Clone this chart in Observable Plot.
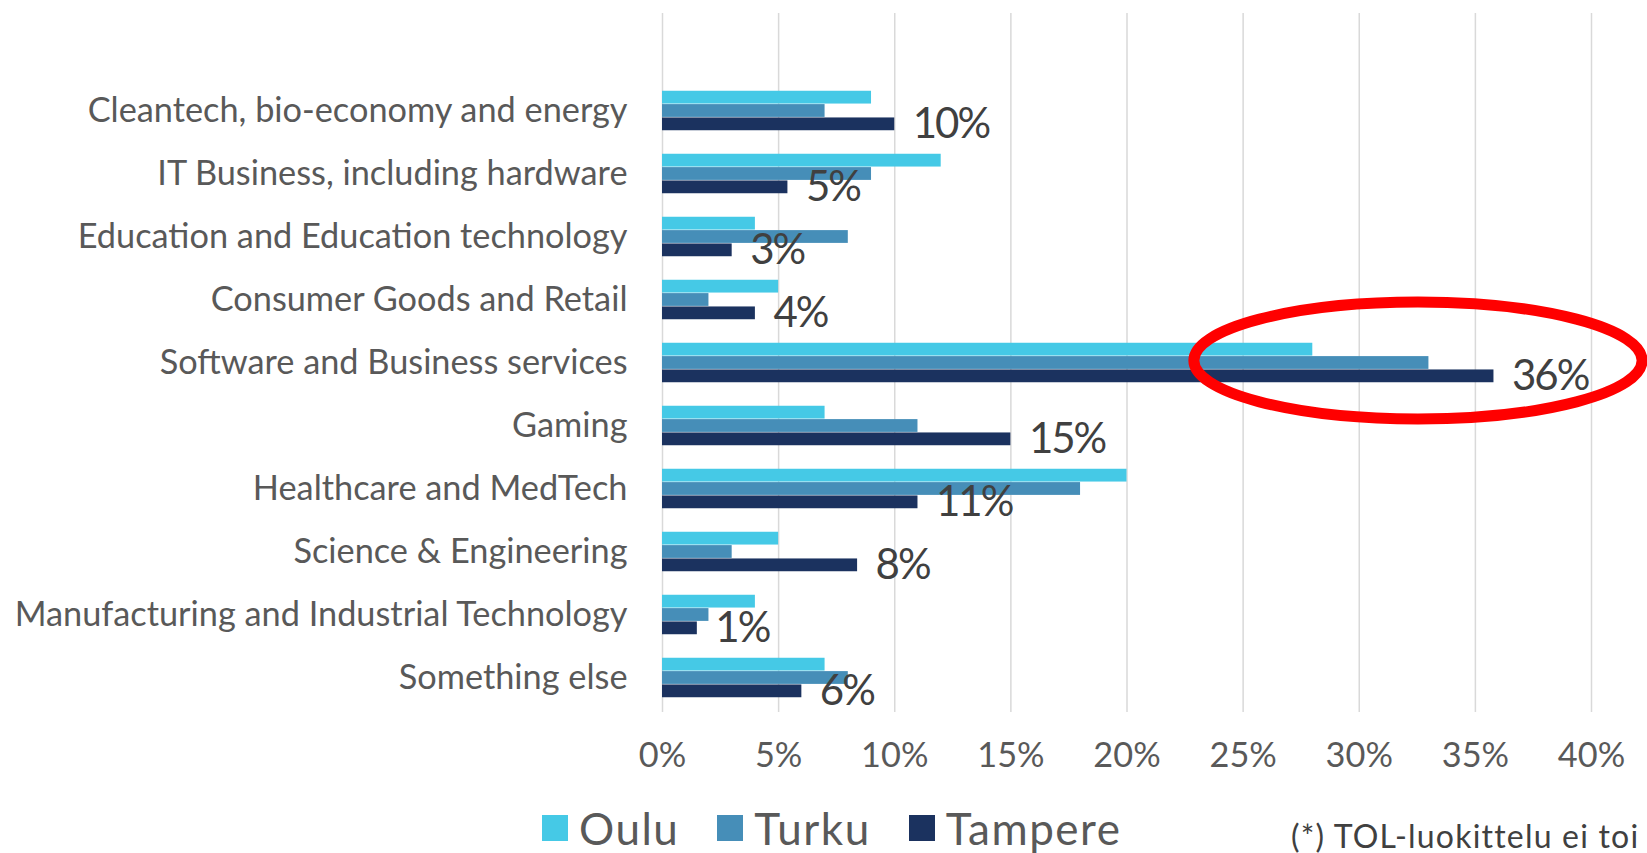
<!DOCTYPE html>
<html><head><meta charset="utf-8">
<script src="https://cdn.jsdelivr.net/npm/d3@7"></script>
<script src="https://cdn.jsdelivr.net/npm/@observablehq/plot@0.6"></script>
<style>
body{margin:0;background:#fff;width:1647px;height:853px;overflow:hidden;position:relative;font-family:Lato,sans-serif;}
#chart svg{display:block}
#legend{position:absolute;top:806px;left:542px;display:flex;align-items:center;font-size:44px;line-height:1;color:#595959;white-space:nowrap;letter-spacing:1.5px}
#legend .item{display:flex;align-items:center;margin-right:38px}
#legend .sw{width:26px;height:26px;margin-right:11px}
#note{position:absolute;top:820px;left:1291px;font-size:32px;line-height:1;color:#404040;white-space:nowrap;letter-spacing:1.2px}
</style></head><body>
<div id="chart"></div>
<div id="legend"></div>
<div id="note">(*) TOL-luokittelu ei toi</div>
<script>
const categories = [
  "Cleantech, bio-economy and energy",
  "IT Business, including hardware",
  "Education and Education technology",
  "Consumer Goods and Retail",
  "Software and Business services",
  "Gaming",
  "Healthcare and MedTech",
  "Science & Engineering",
  "Manufacturing and Industrial Technology",
  "Something else"
];
const oulu    = [9, 12, 4, 5, 28, 7, 20, 5, 4, 7];
const turku   = [7, 9, 8, 2, 33, 11, 18, 3, 2, 8];
const tampere = [10, 5.4, 3, 4, 35.8, 15, 11, 8.4, 1.5, 6];
const tampereLabels = ["10%", "5%", "3%", "4%", "36%", "15%", "11%", "8%", "1%", "6%"];
const seriesNames = ["Oulu", "Turku", "Tampere"];
const seriesColors = ["#45C9E6", "#468EB8", "#1B325F"];
const xTicks = [0, 5, 10, 15, 20, 25, 30, 35, 40];
// highlight ellipse annotation (x extent in %, around category)
const highlightCategory = "Software and Business services";
const highlightX = [22.9, 42.2];

const rows = categories.map((c, i) => ({
  category: c, Oulu: oulu[i], Turku: turku[i], Tampere: tampere[i], label: tampereLabels[i]
}));

const W = 1647, H = 795;
const yRange = [76, 711.5];
const bw = (yRange[1] - yRange[0]) / categories.length;
const groupH = bw * 0.63;
const barH = groupH / 3;
const pad = (bw - groupH) / 2;

const barMarks = seriesNames.map((s, k) => Plot.barX(rows, {
  x: s, y: "category", fill: seriesColors[k],
  insetTop: pad + k * barH,
  insetBottom: bw - pad - (k + 1) * barH
}));

const plot = Plot.plot({
  width: W, height: H,
  marginLeft: 662, marginRight: 56, marginTop: 13, marginBottom: 83,
  style: {fontFamily: "Lato, sans-serif", fontSize: "34.3px", color: "#595959", background: "#fff"},
  x: {domain: [0, 40], ticks: xTicks, tickFormat: d => d + "%", tickSize: 0, tickPadding: 30, label: null},
  y: {domain: categories, range: yRange, padding: 0, tickSize: 0, tickPadding: 35, label: null},
  marks: [
    Plot.ruleX(xTicks, {stroke: "#d9d9d9", strokeWidth: 1.5}),
    ...barMarks,
    Plot.text(rows, {x: "Tampere", y: "category", text: "label", textAnchor: "start",
      dx: 18, dy: pad + 2.5 * barH - bw / 2, fontSize: 42, fill: "#404040", lineAnchor: "middle"})
  ]
});

// tighter spacing for data labels
d3.select(plot).selectAll("g[aria-label='text'] text").style("letter-spacing", "-2px");

// red highlight ellipse, positioned through the plot's scales
const xs = plot.scale("x"), ys = plot.scale("y");
const ex1 = xs.apply(highlightX[0]), ex2 = xs.apply(highlightX[1]);
const ecy = ys.apply(highlightCategory) + ys.bandwidth / 2 - 2;
d3.select(plot).append("ellipse")
  .attr("cx", (ex1 + ex2) / 2).attr("cy", ecy)
  .attr("rx", (ex2 - ex1) / 2).attr("ry", bw * 0.92)
  .attr("fill", "none").attr("stroke", "#FF0000").attr("stroke-width", 11);

document.getElementById("chart").appendChild(plot);

const legend = document.getElementById("legend");
seriesNames.forEach((s, k) => {
  const it = document.createElement("div"); it.className = "item";
  const sw = document.createElement("div"); sw.className = "sw"; sw.style.background = seriesColors[k];
  const t = document.createElement("span"); t.textContent = s;
  it.appendChild(sw); it.appendChild(t); legend.appendChild(it);
});
</script>
</body></html>
